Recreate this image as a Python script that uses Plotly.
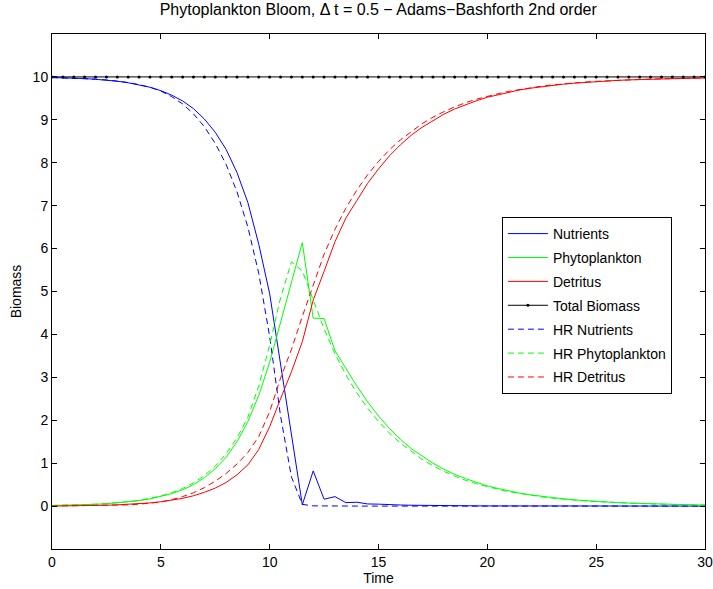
import plotly.graph_objects as go

t = [i * 0.5 for i in range(61)]

nutrients = [9.986, 9.98, 9.971, 9.962, 9.944, 9.927, 9.90, 9.864, 9.82, 9.76,
             9.68, 9.575, 9.44, 9.26, 9.02, 8.71, 8.31, 7.77, 7.07, 6.10,
             4.95, 3.30, 1.62, 0.03, 0.82, 0.16, 0.22, 0.08, 0.09, 0.05,
             0.045, 0.03, 0.025, 0.02, 0.015, 0.012, 0.01, 0.008, 0.006, 0.005,
             0.004, 0.003, 0.003, 0.002, 0.002, 0.002, 0.001, 0.001, 0.001, 0.001,
             0.001, 0.001, 0.0, 0.0, 0.0, 0.0, 0.0, 0.0, 0.0, 0.0, 0.0]

phyto = [0.014, 0.018, 0.024, 0.032, 0.042, 0.055, 0.073, 0.096, 0.126, 0.166,
         0.22, 0.29, 0.38, 0.50, 0.66, 0.87, 1.14, 1.50, 1.97, 2.58,
         3.35, 4.30, 5.25, 6.14, 4.38, 4.37, 3.62, 3.21, 2.80, 2.43,
         2.10, 1.81, 1.56, 1.34, 1.16, 1.00, 0.86, 0.74, 0.64, 0.55,
         0.47, 0.41, 0.35, 0.30, 0.26, 0.225, 0.195, 0.168, 0.145, 0.125,
         0.108, 0.093, 0.080, 0.069, 0.060, 0.052, 0.045, 0.039, 0.033, 0.029, 0.025]

detritus = [0.0, 0.002, 0.005, 0.009, 0.014, 0.020, 0.029, 0.040, 0.055, 0.074,
            0.101, 0.135, 0.18, 0.24, 0.32, 0.42, 0.55, 0.73, 0.96, 1.32,
            1.85, 2.50, 3.13, 3.83, 4.80, 5.47, 6.16, 6.71, 7.11, 7.52,
            7.855, 8.16, 8.415, 8.64, 8.825, 8.988, 9.13, 9.252, 9.354, 9.445,
            9.526, 9.587, 9.647, 9.698, 9.738, 9.773, 9.804, 9.831, 9.854, 9.874,
            9.891, 9.906, 9.92, 9.931, 9.94, 9.948, 9.955, 9.961, 9.967, 9.971, 9.975]

total = [10.0] * 61

hr_nutrients = [9.985, 9.978, 9.97, 9.96, 9.948, 9.93, 9.905, 9.87, 9.82, 9.76,
                9.67, 9.54, 9.37, 9.14, 8.84, 8.45, 7.96, 7.32, 6.50, 5.42,
                3.95, 2.10, 0.68, 0.04, 0.005, 0.0, 0.0, 0.0, 0.0, 0.0,
                0.0, 0.0, 0.0, 0.0, 0.0, 0.0, 0.0, 0.0, 0.0, 0.0,
                0.0, 0.0, 0.0, 0.0, 0.0, 0.0, 0.0, 0.0, 0.0, 0.0,
                0.0, 0.0, 0.0, 0.0, 0.0, 0.0, 0.0, 0.0, 0.0, 0.0, 0.0]

hr_phyto = [0.014, 0.019, 0.025, 0.033, 0.044, 0.058, 0.077, 0.102, 0.135, 0.178,
            0.235, 0.31, 0.41, 0.54, 0.71, 0.93, 1.22, 1.59, 2.07, 2.80,
            3.75, 4.85, 5.69, 5.48, 4.80, 4.13, 3.55, 3.06, 2.64, 2.28,
            1.97, 1.70, 1.47, 1.27, 1.09, 0.94, 0.81, 0.70, 0.60, 0.52,
            0.45, 0.39, 0.335, 0.29, 0.25, 0.215, 0.185, 0.16, 0.138, 0.119,
            0.103, 0.089, 0.077, 0.066, 0.057, 0.049, 0.042, 0.036, 0.031, 0.027, 0.023]

hr_detritus = [0.001, 0.003, 0.005, 0.007, 0.008, 0.012, 0.018, 0.028, 0.045, 0.062,
               0.095, 0.15, 0.22, 0.31, 0.43, 0.58, 0.76, 0.98, 1.25, 1.62,
               2.20, 2.98, 3.65, 4.42, 5.15, 5.87, 6.45, 6.94, 7.36, 7.72,
               8.03, 8.30, 8.53, 8.73, 8.91, 9.06, 9.19, 9.30, 9.40, 9.48,
               9.55, 9.61, 9.665, 9.71, 9.75, 9.785, 9.815, 9.84, 9.862, 9.881,
               9.897, 9.911, 9.923, 9.934, 9.943, 9.951, 9.958, 9.964, 9.969, 9.973, 9.977]

BLUE, GREEN, RED = "rgb(0,0,255)", "rgb(0,255,0)", "rgb(255,0,0)"
DASH = "6px,4px"

fig = go.Figure()
series = [
    ("Nutrients", nutrients, BLUE),
    ("Phytoplankton", phyto, GREEN),
    ("Detritus", detritus, RED),
]
for i, (name, ys, col) in enumerate(series):
    fig.add_trace(go.Scatter(x=t, y=ys, mode="lines", name=name, legendgroup=str(i),
                             line=dict(color=col, width=1)))
fig.add_trace(go.Scatter(x=t, y=total, mode="lines+markers", name="Total Biomass", legendgroup="3",
                         line=dict(color="black", width=1),
                         marker=dict(color="black", size=3)))
hr = [
    ("HR Nutrients", hr_nutrients, BLUE),
    ("HR Phytoplankton", hr_phyto, GREEN),
    ("HR Detritus", hr_detritus, RED),
]
for i, (name, ys, col) in enumerate(hr):
    fig.add_trace(go.Scatter(x=t, y=ys, mode="lines", name=name, legendgroup=str(4 + i),
                             line=dict(color=col, width=1, dash=DASH)))

FONT = "Liberation Sans, Arial, Helvetica, sans-serif"
axis_common = dict(showline=True, linecolor="black", linewidth=1, mirror="ticks",
                   ticks="inside", ticklen=5, tickcolor="black", showgrid=False,
                   zeroline=False, automargin=False,
                   tickfont=dict(size=14, color="black", family=FONT))

fig.update_layout(
    width=713, height=589,
    margin=dict(l=52, r=8, t=34, b=40),
    paper_bgcolor="white", plot_bgcolor="white",
    font=dict(family=FONT, size=14, color="black"),
    title=dict(text="Phytoplankton Bloom, \u0394 t = 0.5 \u2212 Adams\u2212Bashforth 2nd order",
               x=0.5305, xanchor="center", y=0.993, yanchor="top",
               font=dict(size=16, family=FONT, color="black")),
    xaxis=dict(range=[0, 30], tickvals=[0, 5, 10, 15, 20, 25, 30],
               title=dict(text="Time", standoff=2, font=dict(size=14)), **axis_common),
    yaxis=dict(range=[-1, 11], tickvals=list(range(0, 11)),
               title=dict(text="Biomass", standoff=7, font=dict(size=14)), **axis_common),
    legend=dict(x=0.689, y=0.6447, xanchor="left", yanchor="top",
                bordercolor="black", borderwidth=1, bgcolor="white",
                font=dict(size=14, family=FONT, color="black"),
                tracegroupgap=2.7, traceorder="grouped", itemwidth=40),
    showlegend=True,
)

fig.write_html("out.html")
